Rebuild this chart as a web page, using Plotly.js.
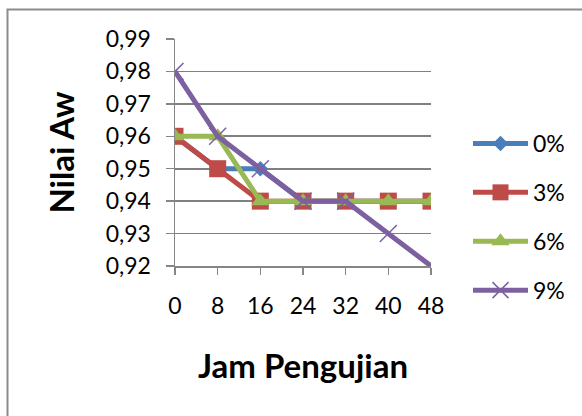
<!DOCTYPE html>
<html>
<head>
<meta charset="utf-8">
<script src="https://cdn.plot.ly/plotly-3.0.1.min.js"></script>
<style>html,body{margin:0;padding:0;background:#fff;}#chart{width:582px;height:416px;}</style>
</head>
<body>
<div id="chart"></div>
<script>
var hours = [0, 8, 16, 24, 32, 40, 48];
var seriesNames = ["0%", "3%", "6%", "9%"];
var aw0 = [0.96, 0.95, 0.95, 0.94, 0.94, 0.94, 0.94];
var aw3 = [0.96, 0.95, 0.94, 0.94, 0.94, 0.94, 0.94];
var aw6 = [0.96, 0.96, 0.94, 0.94, 0.94, 0.94, 0.94];
var aw9 = [0.98, 0.96, 0.95, 0.94, 0.94, 0.93, 0.92];
var yTicks = [0.92, 0.93, 0.94, 0.95, 0.96, 0.97, 0.98, 0.99];

var colors = ["#4A7EBB", "#BE4B48", "#98B954", "#7D60A0"];
var symbols = ["diamond", "square", "triangle-up", "x-thin"];
var sizes = [12, 17, 16, 17];
var values = [aw0, aw3, aw6, aw9];

var FONT = "Lato, 'Open Sans', sans-serif";
var traces = values.map(function (v, i) {
  var m = {symbol: symbols[i], size: sizes[i], color: colors[i]};
  if (symbols[i] === "x-thin") { m.line = {color: colors[i], width: 1.5}; }
  return {
    x: hours, y: v, name: seriesNames[i], type: "scatter", mode: "lines+markers",
    legendgroup: "g" + i,
    line: {color: colors[i], width: 5},
    marker: m
  };
});

var L = 175, R = 431, T = 39, B = 266;
var pw = R - L, ph = B - T;
var layout = {
  width: 582, height: 416,
  margin: {l: L, r: 582 - R, t: T, b: 416 - B},
  paper_bgcolor: "#fff", plot_bgcolor: "#fff",
  separators: ",.",
  showlegend: true,
  font: {family: FONT, color: "#000", size: 23},
  xaxis: {
    range: [0, 48], tickvals: hours, ticktext: hours.map(String),
    showgrid: false, zeroline: false,
    showline: true, linecolor: "#868686", linewidth: 1.5,
    ticks: "outside", ticklen: 7, tickcolor: "#868686", tickwidth: 1.5,
    ticklabelstandoff: 12,
    tickfont: {family: FONT, size: 23, color: "#000"},
    automargin: false,
    title: {text: "Jam Pengujian", font: {family: FONT, size: 33, color: "#000", weight: "bold"}, standoff: 37}
  },
  yaxis: {
    range: [0.92, 0.99], tickvals: yTicks, tickformat: ".2f",
    showgrid: true, gridcolor: "#808080", gridwidth: 1.6,
    zeroline: false,
    showline: true, linecolor: "#868686", linewidth: 1.5,
    ticks: "outside", ticklen: 8, tickcolor: "#868686", tickwidth: 1.5,
    ticklabelstandoff: 10,
    tickfont: {family: FONT, size: 23, color: "#000"},
    automargin: false,
    title: {text: "Nilai Aw", font: {family: FONT, size: 33, color: "#000", weight: "bold"}, standoff: 21}
  },
  legend: {
    x: (468 - L) / pw, xanchor: "left",
    y: 1 - (122 - T) / ph, yanchor: "top",
    font: {family: FONT, size: 23, color: "#000"},
    itemwidth: 55, tracegroupgap: 16,
    bgcolor: "rgba(0,0,0,0)", borderwidth: 0
  },
  shapes: [{
    type: "rect", xref: "paper", yref: "paper",
    x0: (7.5 - L) / pw, x1: (600 - L) / pw,
    y0: -1, y1: 1 + (T - 9.5) / ph,
    line: {color: "#8c8c8c", width: 2}
  }]
};

Plotly.newPlot("chart", traces, layout, {staticPlot: true, displayModeBar: false});
</script>
</body>
</html>
